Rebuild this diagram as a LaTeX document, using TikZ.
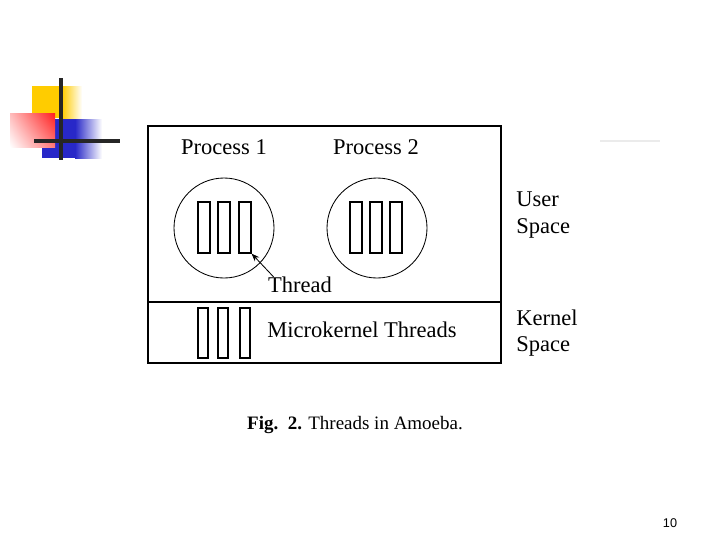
\documentclass[tikz,border=0pt]{standalone}
\usepackage{fontspec}
\setmainfont{Liberation Serif}
\setsansfont{Liberation Sans}
\usepackage{xcolor}
\usetikzlibrary{arrows.meta,positioning,shadings}
\definecolor{logoyellow}{RGB}{255,204,0}
\definecolor{logored}{RGB}{255,30,30}
\definecolor{logoblue}{RGB}{40,40,200}
\tikzset{thr/.style={draw,thick,minimum width=12*0.025cm,minimum height=51*0.025cm,inner sep=0pt},
lbl/.style={font=\fontsize{16}{19}\selectfont,inner sep=0pt}}
\begin{document}
\begin{tikzpicture}[x=0.025cm,y=-0.025cm,>=Stealth]
\useasboundingbox (0,0) rectangle (720,540);
% logo
\fill[logoyellow] (32,86) rectangle (62,118);
\shade[left color=logoyellow,right color=white] (62,86) rectangle (82,118);
\fill[logoblue] (42,119) rectangle (75,158);
\shade[left color=logoblue,right color=white] (75,119) rectangle (102,158);
\shade[lower left=white,upper right=logored,upper left=logored!30!white,lower right=logored!60!white] (10,113) rectangle (55,147);
\draw[line width=3pt,black!85](61,78)--(61,160);
\draw[line width=2.5pt,black!85](34,141)--(120,141);
\draw[black!8,line width=1.5pt](600,141)--(660,141);
% diagram
\draw[thick](148,126)rectangle(501,363);
\draw[thick](148,302)--(501,302);
\node[lbl] (p1) at (224,147) {Process 1};
\node[lbl] (p2) at (376,147) {Process 2};
\draw[semithick](224,228)circle[radius=50];
\draw[semithick](377,228)circle[radius=50];
\foreach \i/\x in {1/204,2/224,3/245}
  \node[thr] (ta\i) at (\x,227.5) {};
\foreach \i/\x in {1/356,2/376,3/396}
  \node[thr] (tb\i) at (\x,227.5) {};
\foreach \i/\x in {1/203,2/223,3/245}
  \node[thr,minimum width=10*0.025cm,minimum height=50*0.025cm] (tk\i) at (\x,333) {};
\node[lbl] (thr) at (300,285) {Thread};
\draw[->,semithick]([xshift=4pt]thr.north west)--(ta3.south east);
\node[lbl] (mk) at (362,330) {Microkernel Threads};
\node[lbl,anchor=west,align=left] (us) at (516,215) {User\\Space};
\node[lbl,anchor=west,align=left] (ks) at (516,333) {Kernel\\Space};
\node[font=\fontsize{13.5}{16}\selectfont,inner sep=0pt] (cap) at (355,425) {\textbf{Fig.\ \ 2.} Threads in Amoeba.};
\node[font=\sffamily\fontsize{9}{11}\selectfont,inner sep=0pt] (pg) at (670,523) {10};
\end{tikzpicture}
\end{document}
